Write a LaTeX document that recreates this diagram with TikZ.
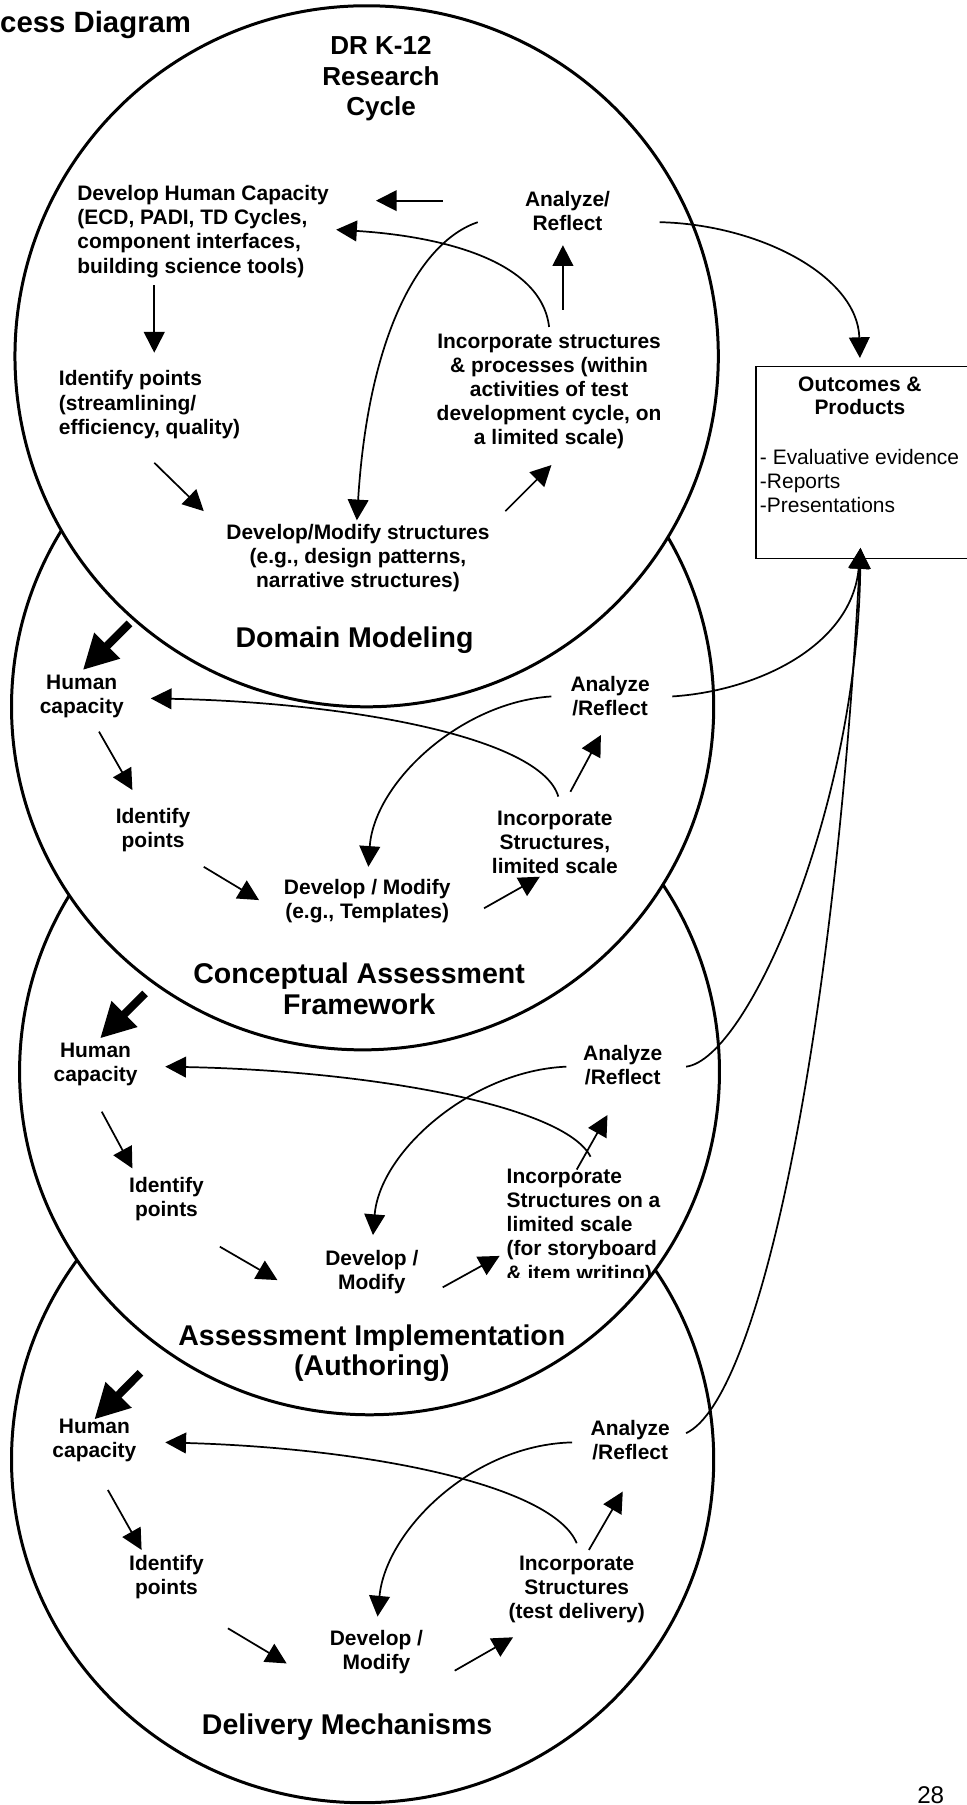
\documentclass[tikz,border=0pt]{standalone}
\usepackage{fontspec}
\setmainfont{Liberation Sans}
\usetikzlibrary{arrows.meta,shapes.geometric}
\begin{document}
\begin{tikzpicture}[x=1pt,y=-1pt,
  ell/.style={ellipse, draw=black, line width=2.6pt, fill=white, inner sep=0pt},
  txt/.style={font=\fontsize{18.2}{21}\selectfont\bfseries, inner sep=0pt, align=center},
  txtl/.style={txt, align=left},
  plain/.style={font=\fontsize{18.2}{21}\selectfont, inner sep=0pt, align=left},
  head/.style={font=\fontsize{24.8}{26.5}\selectfont\bfseries, inner sep=0pt, align=center},
  arr/.style={line width=1.5pt, -{Triangle[length=18pt,width=18pt]}},
  bigarr/.style={line width=7pt, -{Triangle[length=30pt,width=30pt]}},
]
\useasboundingbox (0,0) rectangle (840,1568);
\fill[white] (0,0) rectangle (840,1568);

% ellipses, lowest first
\node[ell, minimum width=610pt, minimum height=596pt] (e4) at (315,1268) {};
\node[ell, minimum width=608pt, minimum height=596pt] (e3) at (321,931) {};
\node[ell, minimum width=610pt, minimum height=596pt] (e2) at (315,614) {};
\node[ell, minimum width=611pt, minimum height=609pt] (e1) at (318.5,309.5) {};

% box
\node[draw, line width=1.2pt, minimum width=220pt, minimum height=167pt, anchor=north west, inner sep=0pt] (box) at (656,317.6) {};
\node[txt, font=\fontsize{18.2}{20}\selectfont\bfseries] (oc) at (747,344) {Outcomes \&\\Products};
\node[plain, anchor=west] (ocl) at (660,418) {- Evaluative evidence\\-Reports\\-Presentations};

% title and page number
\node[font=\fontsize{25.5}{28}\selectfont\bfseries, inner sep=0pt, anchor=base west] (title) at (0,28.5) {cess Diagram};
\node[font=\fontsize{21}{24}\selectfont, inner sep=0pt, anchor=base] (pg) at (808.5,1566.5) {28};

% ---- ellipse 1 texts
\node[txt, font=\fontsize{22.6}{26.5}\selectfont\bfseries] (drk) at (331,68.5) {DR K-12\\Research\\Cycle};
\node[txtl, anchor=west] (dhc) at (67,201) {Develop Human Capacity\\(ECD, PADI, TD Cycles,\\component interfaces,\\building science tools)};
\node[txt] (ar1) at (493,183) {Analyze/\\Reflect};
\node[txt] (inc1) at (477,340) {Incorporate structures\\\& processes (within\\activities of test\\development cycle, on\\a limited scale)};
\node[txtl, anchor=west] (ip1) at (51,351.5) {Identify points\\(streamlining/\\efficiency, quality)};
\node[txt] (dm1) at (311,485) {Develop/Modify structures\\(e.g., design patterns,\\narrative structures)};
\node[head] (dmod) at (308,556) {Domain Modeling};

% ---- ellipse 2 texts
\node[txt] (hc2) at (71,605) {Human\\capacity};
\node[txt] (ar2) at (530,605) {Analyze\\/Reflect};
\node[txt] (ip2) at (133,721) {Identify\\points};
\node[txt] (dm2) at (319,783) {Develop / Modify\\(e.g., Templates)};
\node[txt] (inc2) at (482,732) {Incorporate\\Structures,\\limited scale};
\node[head] (caf) at (312,859) {Conceptual Assessment\\Framework};

% ---- ellipse 3 texts
\node[txt] (hc3) at (83,925) {Human\\capacity};
\node[txt] (ar3) at (541,925) {Analyze\\/Reflect};
\node[txt] (ip3) at (144.6,1041.6) {Identify\\points};
\node[txt] (dm3) at (323,1104.7) {Develop /\\Modify};
\begin{scope}
\clip (430,990) rectangle (640,1109.5);
\node[txtl, anchor=west] (inc3) at (440,1065.6) {Incorporate\\Structures on a\\limited scale\\(for storyboard\\\& item writing)};
\end{scope}
\node[head] (aia) at (323,1175.6) {Assessment Implementation\\(Authoring)};

% ---- ellipse 4 texts
\node[txt] (hc4) at (82,1251) {Human\\capacity};
\node[txt] (ar4) at (547.5,1251) {Analyze\\/Reflect};
\node[txt] (ip4) at (144.6,1370.3) {Identify\\points};
\node[txt] (dm4) at (327,1435) {Develop /\\Modify};
\node[txt] (inc4) at (501,1380.7) {Incorporate\\Structures\\(test delivery)};
\node[head] (dmech) at (301.6,1500) {Delivery Mechanisms};

% ---- connector end points
\coordinate (b1) at (747,311);
\coordinate (b2) at (747.5,476);
% ellipse 1
\coordinate (a1s) at (384.5,174.3); \coordinate (a1e) at (326.6,174.3);
\coordinate (a2s) at (489,269);   \coordinate (a2e) at (489,213);
\coordinate (a3s) at (134,248);   \coordinate (a3e) at (134,306.4);
\coordinate (a4s) at (134,402);   \coordinate (a4e) at (177,444);
\coordinate (a5s) at (439,444);   \coordinate (a5e) at (479,404);
\coordinate (c1s) at (477,284);   \coordinate (c1e) at (292,199.5);
\coordinate (c2s) at (415,193);   \coordinate (c2e) at (310,452);
\coordinate (c3s) at (573,193);
% ellipse 2
\coordinate (t2s) at (112.5,541.5); \coordinate (t2e) at (72,582);
\coordinate (c4s) at (584,605);
\coordinate (c5s) at (485,692);   \coordinate (c5e) at (131,606.7);
\coordinate (a6s) at (495.5,687.8); \coordinate (a6e) at (522,638.5);
\coordinate (c6s) at (479,605);   \coordinate (c6e) at (320,753);
\coordinate (a7s) at (86,635.6);  \coordinate (a7e) at (115,686.3);
\coordinate (a8s) at (177,753);   \coordinate (a8e) at (225,781.9);
\coordinate (a9s) at (420.5,789); \coordinate (a9e) at (469,761.6);
% ellipse 3
\coordinate (t3s) at (126,863);   \coordinate (t3e) at (87,902);
\coordinate (c7s) at (596,926.6);
\coordinate (c8s) at (513,1004.8); \coordinate (c8e) at (143.6,926.6);
\coordinate (a10s) at (501,1016); \coordinate (a10e) at (527.7,968.6);
\coordinate (c9s) at (492,926.6); \coordinate (c9e) at (324,1072.9);
\coordinate (a11s) at (88.4,965.7); \coordinate (a11e) at (115,1015);
\coordinate (a12s) at (191,1083); \coordinate (a12e) at (241,1112);
\coordinate (a13s) at (384.6,1118.3); \coordinate (a13e) at (434,1091);
% ellipse 4
\coordinate (t4s) at (122,1192.5); \coordinate (t4e) at (82,1233);
\coordinate (c10s) at (596,1245);
\coordinate (c11s) at (501,1340.6); \coordinate (c11e) at (143.6,1253);
\coordinate (a14s) at (511.6,1346.4); \coordinate (a14e) at (541,1295.7);
\coordinate (c12s) at (497,1253); \coordinate (c12e) at (328,1404.3);
\coordinate (a15s) at (93.7,1294.3); \coordinate (a15e) at (123,1346.4);
\coordinate (a16s) at (198,1414.5); \coordinate (a16e) at (249,1445);
\coordinate (a17s) at (395,1451.3); \coordinate (a17e) at (445.7,1422.3);

% ---- connectors ellipse 1
\draw[arr] (a1s) -- (a1e);
\draw[arr] (a2s) -- (a2e);
\draw[arr] (a3s) -- (a3e);
\draw[arr] (a4s) -- (a4e);
\draw[arr] (a5s) -- (a5e);
\draw[arr] (c1s) .. controls (470,225) and (380,205) .. (c1e);
\draw[arr] (c2s) .. controls (365,210) and (320,290) .. (c2e);
\draw[arr] (c3s) .. controls (660,195) and (745,240) .. (b1);
% ellipse 2
\draw[bigarr] (t2s) -- (t2e);
\draw[arr] (c4s) .. controls (660,600) and (740,560) .. (b2);
\draw[arr] (c5s) .. controls (470,640) and (300,610) .. (c5e);
\draw[arr] (a6s) -- (a6e);
\draw[arr] (c6s) .. controls (400,610) and (325,680) .. (c6e);
\draw[arr] (a7s) -- (a7e);
\draw[arr] (a8s) -- (a8e);
\draw[arr] (a9s) -- (a9e);
% ellipse 3
\draw[bigarr] (t3s) -- (t3e);
\draw[arr] (c7s) .. controls (650,920) and (745,700) .. (b2);
\draw[arr] (c8s) .. controls (490,960) and (320,930) .. (c8e);
\draw[arr] (a10s) -- (a10e);
\draw[arr] (c9s) .. controls (410,930) and (330,1000) .. (c9e);
\draw[arr] (a11s) -- (a11e);
\draw[arr] (a12s) -- (a12e);
\draw[arr] (a13s) -- (a13e);
% ellipse 4
\draw[bigarr] (t4s) -- (t4e);
\draw[arr] (c10s) .. controls (660,1215) and (725,900) .. (b2);
\draw[arr] (c11s) .. controls (480,1290) and (320,1258) .. (c11e);
\draw[arr] (a14s) -- (a14e);
\draw[arr] (c12s) .. controls (410,1255) and (335,1330) .. (c12e);
\draw[arr] (a15s) -- (a15e);
\draw[arr] (a16s) -- (a16e);
\draw[arr] (a17s) -- (a17e);
\end{tikzpicture}
\end{document}
